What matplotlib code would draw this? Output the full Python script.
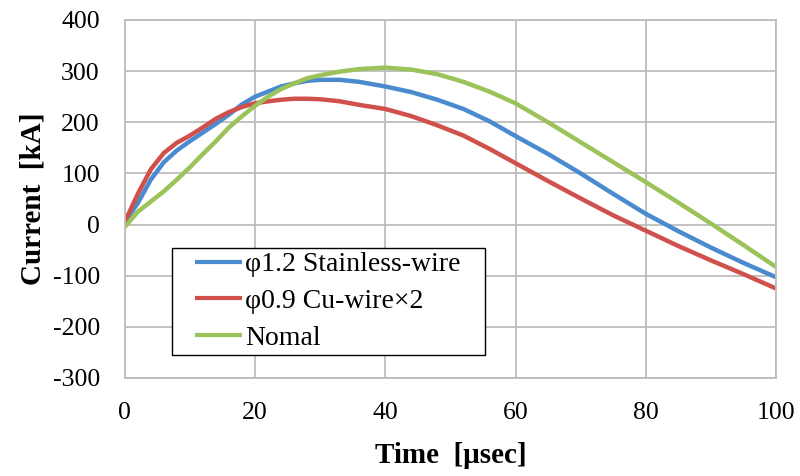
import numpy as np
import matplotlib
matplotlib.use("Agg")
import matplotlib.pyplot as plt
from matplotlib.patches import Rectangle

# time [usec] and current [kA]
t = [0, 2, 4, 6, 8, 10, 12, 14, 16, 18, 20, 22, 24, 26, 28, 30, 33, 36, 40,
     44, 48, 52, 56, 60, 65, 70, 75, 80, 85, 90, 95, 100]
stainless = [5, 42, 88, 122, 145, 163, 180, 197, 215, 235, 250, 260, 270, 276,
             281, 283, 283, 279, 270, 259, 244, 226, 202, 173, 138, 100, 60, 21,
             -13, -45, -75, -103]
cu_wire = [5, 60, 108, 140, 160, 174, 190, 207, 220, 230, 237, 241, 244, 246,
           246, 245, 241, 234, 226, 212, 194, 174, 148, 120, 85, 51, 18, -12,
           -42, -70, -97, -125]
nomal = [-5, 25, 45, 65, 88, 112, 138, 163, 190, 212, 232, 250, 265, 276, 286,
         292, 299, 304, 307, 303, 294, 279, 260, 237, 200, 161, 122, 83, 43, 2,
         -40, -83]

labels = ["\u03c61.2 Stainless-wire", "\u03c60.9 Cu-wire\u00d72", "Nomal"]
colors = ["#4a8bd0", "#d0504c", "#9bc35a"]

plt.rcParams["font.family"] = ["Liberation Serif", "DejaVu Serif"]
plt.rcParams["axes.unicode_minus"] = False

fig = plt.figure(figsize=(8, 4.76), dpi=100)
ax = fig.add_axes([0.156, 0.206, 0.814, 0.752])

for y, lab, c in zip([stainless, cu_wire, nomal], labels, colors):
    ax.plot(t, y, color=c, lw=3.2, label=lab, solid_capstyle="butt")

ax.set_xlim(0, 100)
ax.set_ylim(-300, 400)
ax.set_xticks(np.arange(0, 101, 20))
ax.set_yticks(np.arange(-300, 401, 100))
ax.grid(True, color="#bdbdbd", lw=1.3)
ax.set_axisbelow(True)
for s in ax.spines.values():
    s.set_color("#bdbdbd")
    s.set_linewidth(1.3)
ax.tick_params(length=0, labelsize=18.5, pad=18)
ax.tick_params(axis="x", pad=17)

ax.set_xlabel("Time  [\u03bcsec]", fontsize=21, fontweight="bold", labelpad=13)
ax.set_ylabel("Current  [kA]", fontsize=21, fontweight="bold", labelpad=4)

# legend box: Excel pads more left/right than top/bottom, so the frame is drawn apart
ax.add_patch(Rectangle((0.072, 0.064), 0.481, 0.299, transform=ax.transAxes,
                       facecolor="white", edgecolor="black", lw=1.0, zorder=4))
leg = ax.legend(loc="upper left", bbox_to_anchor=(0.1075, 0.352), fontsize=20,
                frameon=False, handlelength=1.7, handletextpad=0.1,
                labelspacing=0.4, borderpad=0, borderaxespad=0)
leg.set_zorder(5)
for line in leg.get_lines():
    line.set_linewidth(3)

fig.savefig("out.png", dpi=100)
